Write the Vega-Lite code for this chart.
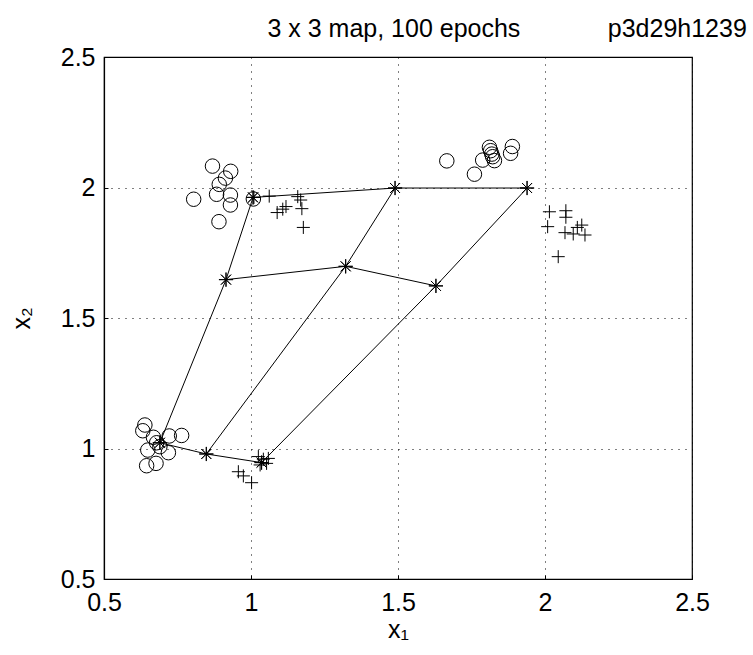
{
  "$schema": "https://vega.github.io/schema/vega-lite/v6.json",
  "width": 588,
  "height": 522,
  "autosize": "none",
  "padding": {"left": 104, "top": 57, "right": 61, "bottom": 76},
  "background": "white",
  "config": {
    "font": "Liberation Sans",
    "view": {"stroke": "black", "strokeWidth": 1.2}
  },
  "datasets": {
    "mesh": [
      {"line": "r0", "ord": 0, "x": 1.007, "y": 1.962},
      {"line": "r0", "ord": 1, "x": 1.490, "y": 1.998},
      {"line": "r0", "ord": 2, "x": 1.939, "y": 1.998},
      {"line": "r1", "ord": 0, "x": 0.915, "y": 1.647},
      {"line": "r1", "ord": 1, "x": 1.322, "y": 1.698},
      {"line": "r1", "ord": 2, "x": 1.629, "y": 1.623},
      {"line": "r2", "ord": 0, "x": 0.690, "y": 1.022},
      {"line": "r2", "ord": 1, "x": 0.848, "y": 0.979},
      {"line": "r2", "ord": 2, "x": 1.036, "y": 0.946},
      {"line": "c0", "ord": 0, "x": 1.007, "y": 1.962},
      {"line": "c0", "ord": 1, "x": 0.915, "y": 1.647},
      {"line": "c0", "ord": 2, "x": 0.690, "y": 1.022},
      {"line": "c1", "ord": 0, "x": 1.490, "y": 1.998},
      {"line": "c1", "ord": 1, "x": 1.322, "y": 1.698},
      {"line": "c1", "ord": 2, "x": 0.848, "y": 0.979},
      {"line": "c2", "ord": 0, "x": 1.939, "y": 1.998},
      {"line": "c2", "ord": 1, "x": 1.629, "y": 1.623},
      {"line": "c2", "ord": 2, "x": 1.036, "y": 0.946}
    ],
    "circles": [
      {"x": 0.869, "y": 2.082}, {"x": 0.931, "y": 2.062}, {"x": 0.913, "y": 2.036},
      {"x": 0.892, "y": 2.012}, {"x": 0.805, "y": 1.955}, {"x": 0.883, "y": 1.974},
      {"x": 0.930, "y": 1.971}, {"x": 0.930, "y": 1.933}, {"x": 0.891, "y": 1.869},
      {"x": 1.008, "y": 1.956},
      {"x": 1.666, "y": 2.102}, {"x": 1.760, "y": 2.051}, {"x": 1.788, "y": 2.105},
      {"x": 1.811, "y": 2.154}, {"x": 1.815, "y": 2.141}, {"x": 1.819, "y": 2.128},
      {"x": 1.828, "y": 2.103}, {"x": 1.822, "y": 2.118}, {"x": 1.889, "y": 2.157},
      {"x": 1.883, "y": 2.131},
      {"x": 0.639, "y": 1.090}, {"x": 0.632, "y": 1.068}, {"x": 0.668, "y": 1.043},
      {"x": 0.722, "y": 1.048}, {"x": 0.764, "y": 1.050}, {"x": 0.649, "y": 0.994},
      {"x": 0.690, "y": 1.007}, {"x": 0.719, "y": 0.984}, {"x": 0.645, "y": 0.934},
      {"x": 0.677, "y": 0.943}, {"x": 0.679, "y": 1.022}
    ],
    "pluses": [
      {"x": 1.010, "y": 1.962}, {"x": 1.062, "y": 1.967}, {"x": 1.159, "y": 1.965},
      {"x": 1.169, "y": 1.952}, {"x": 1.119, "y": 1.927}, {"x": 1.108, "y": 1.917},
      {"x": 1.089, "y": 1.904}, {"x": 1.173, "y": 1.919}, {"x": 1.178, "y": 1.847},
      {"x": 2.015, "y": 1.907}, {"x": 2.071, "y": 1.911}, {"x": 2.071, "y": 1.886},
      {"x": 2.009, "y": 1.850}, {"x": 2.125, "y": 1.856}, {"x": 2.068, "y": 1.827},
      {"x": 2.096, "y": 1.822}, {"x": 2.110, "y": 1.847}, {"x": 2.136, "y": 1.818},
      {"x": 2.045, "y": 1.735},
      {"x": 1.025, "y": 0.969}, {"x": 1.042, "y": 0.959}, {"x": 1.053, "y": 0.943},
      {"x": 1.031, "y": 0.937}, {"x": 1.059, "y": 0.962}, {"x": 0.957, "y": 0.911},
      {"x": 0.974, "y": 0.895}, {"x": 1.002, "y": 0.869}
    ],
    "label": [
      {"x": 1.486, "y": 2.577, "t": "3 x 3 map, 100 epochs"},
      {"x": 2.45, "y": 2.577, "t": "p3d29h1239"}
    ]
  },
  "layer": [
    {
      "data": {"name": "mesh"},
      "mark": {"type": "line", "color": "black", "strokeWidth": 1},
      "encoding": {
        "x": {
          "field": "x", "type": "quantitative",
          "scale": {"domain": [0.5, 2.5], "nice": false, "zero": false},
          "axis": {
            "title": "x₁", "values": [0.5, 1, 1.5, 2, 2.5], "format": "~g",
            "grid": true, "gridColor": "black", "gridDash": [1, 6], "gridWidth": 1, "gridOpacity": 1,
            "domainColor": "black", "domainWidth": 1.2, "tickColor": "black", "tickSize": -4,
            "labelFontSize": 25, "labelColor": "black", "labelPadding": 15, "labelFlush": false,
            "titleFontSize": 25, "titleFontWeight": "normal", "titleColor": "black", "titlePadding": 2
          }
        },
        "y": {
          "field": "y", "type": "quantitative",
          "scale": {"domain": [0.5, 2.5], "nice": false, "zero": false},
          "axis": {
            "title": "x₂", "values": [0.5, 1, 1.5, 2, 2.5], "format": "~g",
            "grid": true, "gridColor": "black", "gridDash": [1, 6], "gridWidth": 1, "gridOpacity": 1,
            "domainColor": "black", "domainWidth": 1.2, "tickColor": "black", "tickSize": -4,
            "labelFontSize": 25, "labelColor": "black", "labelPadding": 13, "labelFlush": false,
            "titleFontSize": 25, "titleFontWeight": "normal", "titleColor": "black", "titlePadding": 26
          }
        },
        "detail": {"field": "line"},
        "order": {"field": "ord"}
      }
    },
    {
      "data": {"name": "mesh"},
      "mark": {
        "type": "point", "filled": false, "color": "black", "strokeWidth": 1, "opacity": 1,
        "shape": "M-1,0L1,0M0,-1L0,1M-0.7,-0.7L0.7,0.7M-0.7,0.7L0.7,-0.7",
        "size": 200
      },
      "encoding": {
        "x": {"field": "x", "type": "quantitative"},
        "y": {"field": "y", "type": "quantitative"}
      }
    },
    {
      "data": {"name": "circles"},
      "mark": {"type": "point", "shape": "circle", "filled": false, "color": "black", "strokeWidth": 1, "opacity": 1, "size": 210},
      "encoding": {
        "x": {"field": "x", "type": "quantitative"},
        "y": {"field": "y", "type": "quantitative"}
      }
    },
    {
      "data": {"name": "pluses"},
      "mark": {"type": "point", "shape": "M-1,0L1,0M0,-1L0,1", "filled": false, "color": "black", "strokeWidth": 1, "opacity": 1, "size": 170},
      "encoding": {
        "x": {"field": "x", "type": "quantitative"},
        "y": {"field": "y", "type": "quantitative"}
      }
    },
    {
      "data": {"name": "label"},
      "mark": {"type": "text", "fontSize": 25, "color": "black", "align": "center", "baseline": "alphabetic", "font": "Liberation Sans"},
      "encoding": {
        "x": {"field": "x", "type": "quantitative"},
        "y": {"field": "y", "type": "quantitative"},
        "text": {"field": "t"}
      }
    }
  ]
}
